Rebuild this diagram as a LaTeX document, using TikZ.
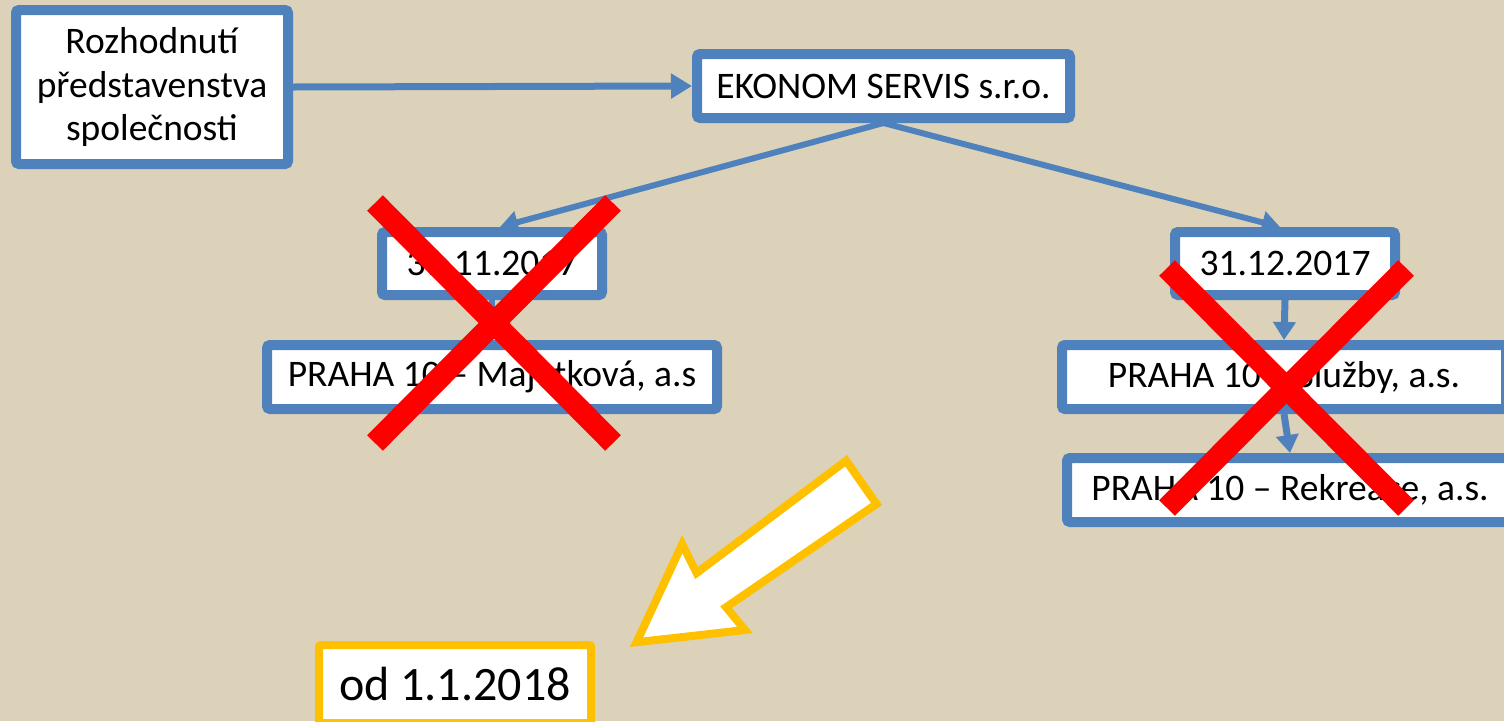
\documentclass[tikz,border=0pt]{standalone}
\usepackage{fontspec}
\setmainfont{Carlito}
\usetikzlibrary{arrows.meta}
\definecolor{bg}{HTML}{DCD2BA}
\definecolor{boxblue}{HTML}{4F81BD}
\definecolor{gold}{HTML}{FFC000}
\begin{document}
\begin{tikzpicture}[x=1pt,y=-1pt,
  bbox/.style={draw=boxblue, line width=10pt, fill=white, rounded corners=3pt,
    inner sep=0pt, font=\fontsize{37.5}{43.5}\selectfont, align=center},
  ybox/.style={draw=gold, line width=8pt, fill=white, rounded corners=2pt,
    inner sep=0pt, font=\fontsize{48}{56}\selectfont},
  conn/.style={draw=boxblue, line width=6pt, -{Triangle[length=18pt,width=22pt]}},
  cross/.style={draw=red, line width=22pt}]
\fill[bg] (0,0) rectangle (1504,721);
\useasboundingbox (0,0) rectangle (1504,721);

% nodes
\node[bbox, minimum width=272pt, minimum height=154pt] (roz) at (152,87)
  {Rozhodnutí\\představenstva\\společnosti};
\node[bbox, minimum width=373pt, minimum height=64pt] (ekon) at (883.5,86) {EKONOM SERVIS s.r.o.};
\node[bbox, minimum width=220pt, minimum height=63pt] (d1) at (492,263.5) {31.11.2017};
\node[bbox, minimum width=220pt, minimum height=63pt] (d2) at (1285,263.5) {31.12.2017};
\node[bbox, minimum width=450pt, minimum height=64pt] (maj) at (492,377) {PRAHA 10 – Majetková, a.s};
\node[bbox, minimum width=444pt, minimum height=64pt] (slu) at (1284,377) {PRAHA 10 – Služby, a.s.};
\node[bbox, minimum width=446pt, minimum height=64pt] (rek) at (1290,490) {PRAHA 10 – Rekreace, a.s.};
\node[ybox, minimum width=272pt, minimum height=78pt] (od) at (455,684) {od 1.1.2018};

% connectors
\draw[conn, line width=7pt, -{Triangle[length=21pt,width=24pt]}] (roz.east) -- (ekon.west);
\draw[conn] (ekon.south) -- ([xshift=8pt]d1.north);
\draw[conn] (ekon.south) -- ([xshift=-5pt]d2.north);
\draw[conn] (d1.south) -- (maj.north);
\draw[conn, line width=7pt] (d2.south) -- (slu.north);
\draw[conn, line width=7pt] (slu.south) -- (rek.north);

% block arrow
\draw[gold, line width=8pt, fill=white, line join=miter]
  (636.6,642.2) -- (682.2,544.2) -- (696.6,573) -- (846.1,460.7) -- (876.5,504)
  -- (726.1,607.2) -- (745,630) -- cycle;

% red crosses
\draw[cross] (375,203) -- (613,443);
\draw[cross] (613,203) -- (375,443);
\draw[cross] (1167,268) -- (1406,508);
\draw[cross] (1406,268) -- (1167,508);
\end{tikzpicture}
\end{document}
